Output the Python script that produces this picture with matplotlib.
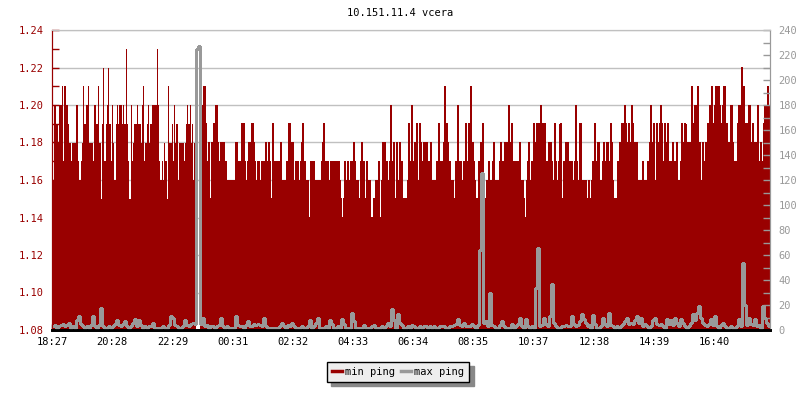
import matplotlib.pyplot as plt
import numpy as np
from matplotlib.lines import Line2D
from matplotlib.ticker import MultipleLocator

RED = "#990000"
GRAY = "#999999"

title = "10.151.11.4 vcera"
time_labels = ["18:27", "20:28", "22:29", "00:31", "02:32", "04:33",
               "06:34", "08:35", "10:37", "12:38", "14:39", "16:40"]
span_min = 1445      # minutes shown on the x axis
tick_step = 121.18   # minutes between time labels

# min ping, one string per 4 hour block
# digit d -> 1.14 + d/100, 'x' -> 1.125, '.' -> no data
min_ping_blocks = [
    "6265" "5466" "7376" "6543" "4446" "63" "2347" "5667" "4443" "6557" "4158"
    "3568" "536" "4256" "5665" "6595" "3163" "4556" "55467" "3456" "4566"
    "6696" "3232" "431" "744",
    "5364" "5244" "44345" "65645" "242" ".5." "2467" "52341" "43546" "42344"
    "43322" "20222" "44233" "5353" "23434" "5431" "2312" "3134" "3143" "1531"
    "3332" "412" "123" "354",
    "24123" "32134" "5312" "2x033" "31221" "21345" "13322" "3133" "23232"
    "1013" "21323" "2343" "2211" "3433" "1322" "2001" "1212" "3024" "24332"
    "3632" "4142" "0413" "1111" "253",
    "63342" "5254" "32444" "31341" "2023" "35231" "4745" "43212" "1136" "3231"
    "2353" "25474" "3211" "1343" "5211" "23121" "34222" "13432" "42446" "4532"
    "3332" "4222" "102" "342",
    "135345" "3565" "35532" "42432" "5321" "3501" "33443" "3332" "36312" "5212"
    "22121" "1235" "3344" "2234" "3343" "3542" "1013" "3453" "5654" "5436"
    "5444" "2212" "3122" "234",
    "63452" "54356" "53544" "5233" "42324" "2235" "4454" "44447" "5656" "7442"
    "4234" "4565" "7556" "76765" "4675" "54346" "4332" "356" "68675" "5566"
    "44543" "4633" "4356" "6476",
]

# max ping (right axis), same 4 hour blocks
max_ping_blocks = [
    [3, 4, 2, 3, 4, 5, 3, 4, 6, 2, 3, 2, 8, 11, 5, 3, 2, 3, 2, 4,
     11, 3, 2, 4, 18, 3, 2, 2, 3, 2, 3, 5, 8, 4, 3, 5, 7, 3, 2, 3,
     6, 9, 3, 8, 4, 2, 3, 2, 3, 3, 6, 2, 2, 2, 2, 3, 2, 2, 4, 11],
    [10, 4, 3, 2, 2, 3, 8, 4, 3, 5, 6, 5, 225, 227, 5, 10, 3, 4, 2, 3,
     3, 2, 3, 4, 10, 3, 2, 3, 2, 2, 2, 2, 11, 4, 3, 3, 2, 4, 7, 3,
     3, 5, 4, 5, 4, 3, 10, 3, 2, 2, 2, 2, 2, 2, 3, 6, 3, 2, 4, 3],
    [6, 3, 2, 2, 2, 3, 2, 2, 3, 8, 2, 3, 6, 10, 2, 2, 2, 3, 2, 8,
     5, 2, 2, 3, 2, 9, 5, 2, 2, 2, 14, 7, 2, 2, 2, 2, 4, 2, 2, 2,
     3, 4, 2, 2, 2, 3, 2, 3, 6, 3, 17, 8, 2, 13, 6, 4, 2, 2, 3, 2],
    [4, 3, 2, 2, 3, 2, 3, 3, 2, 3, 2, 3, 2, 2, 3, 3, 3, 2, 2, 3,
     3, 4, 5, 9, 4, 3, 6, 3, 3, 3, 5, 3, 2, 4, 64, 126, 6, 7, 3, 30,
     4, 3, 2, 2, 4, 7, 3, 2, 2, 2, 5, 2, 3, 5, 10, 3, 2, 9, 3, 2],
    [3, 2, 34, 66, 3, 4, 10, 5, 3, 11, 37, 6, 3, 2, 2, 3, 3, 4, 3, 3,
     11, 5, 3, 4, 7, 13, 9, 6, 3, 4, 2, 12, 5, 2, 2, 3, 10, 5, 3, 14,
     4, 3, 2, 3, 2, 3, 5, 7, 10, 5, 6, 5, 8, 11, 6, 10, 3, 5, 3, 2],
    [3, 8, 10, 5, 4, 5, 3, 2, 9, 5, 8, 4, 10, 6, 3, 9, 6, 3, 2, 3,
     6, 13, 8, 14, 19, 10, 6, 4, 3, 5, 9, 4, 11, 3, 2, 4, 6, 3, 2, 2,
     3, 2, 2, 3, 9, 3, 54, 20, 4, 10, 5, 4, 9, 3, 4, 2, 19, 10, 6, 3],
]


def decode(s):
    out = []
    for c in s:
        if c == ".":
            out.append(np.nan)
        elif c == "x":
            out.append(1.125)
        else:
            out.append(1.14 + int(c) / 100)
    return out


def block_x(blocks):
    w = span_min / len(blocks)
    xs = [np.linspace(i * w, (i + 1) * w, len(b), endpoint=False)
          for i, b in enumerate(blocks)]
    return np.concatenate(xs)


min_y = np.concatenate([decode(b) for b in min_ping_blocks])
min_x = block_x(min_ping_blocks)
max_y = np.concatenate([np.array(b, dtype=float) for b in max_ping_blocks])
max_x = block_x(max_ping_blocks)
# close the last step at the right edge
min_x = np.append(min_x, span_min)
min_y = np.append(min_y, min_y[-1])
max_x = np.append(max_x, span_min)
max_y = np.append(max_y, max_y[-1])

plt.rcParams["font.family"] = "DejaVu Sans Mono"
plt.rcParams["font.size"] = 7.5

fig = plt.figure(figsize=(8, 4), dpi=100, facecolor="white")
ax = fig.add_axes([52 / 800, 70 / 400, 718 / 800, 300 / 400])
ax2 = ax.twinx()

ax.fill_between(min_x, 1.08, min_y, step="post", color=RED, linewidth=0,
                antialiased=False, zorder=2)
ax2.step(max_x, max_y, where="post", color=GRAY, linewidth=0.75,
         antialiased=False)

ax.set_xlim(0, span_min)
ax.set_ylim(1.08, 1.24)
ax2.set_ylim(0, 240)

ax.set_xticks(np.arange(len(time_labels)) * tick_step)
ax.set_xticklabels(time_labels)
ax.yaxis.set_major_locator(MultipleLocator(0.02))
ax.yaxis.set_minor_locator(MultipleLocator(0.01))
ax.yaxis.set_major_formatter(plt.FuncFormatter(lambda v, p: f"{v:.2f}"))
ax2.yaxis.set_major_locator(MultipleLocator(20))
ax2.yaxis.set_minor_locator(MultipleLocator(10))

ax.grid(axis="y", which="major", color="#c0c0c0", linewidth=1, zorder=0)
ax.set_axisbelow(True)

ax.tick_params(axis="y", which="both", direction="in", colors=RED,
               length=5, width=1, pad=6)
ax.tick_params(axis="x", direction="in", colors="black", length=4,
               width=1, pad=5)
ax2.tick_params(axis="y", which="both", direction="in", colors=GRAY,
                length=5, width=1, pad=6)

for a in (ax, ax2):
    a.spines["left"].set_color(RED)
    a.spines["right"].set_color(GRAY)
    a.spines["top"].set_color("#c0c0c0")
    a.spines["bottom"].set_color("black")
    a.spines["bottom"].set_linewidth(2)

fig.text(0.5, 1 - 13 / 400, title, ha="center", va="center", fontsize=7.5)

handles = [Line2D([], [], color=RED, linewidth=2.5),
           Line2D([], [], color=GRAY, linewidth=2.5)]
fig.legend(handles, ["min ping", "max ping"], loc="center",
           bbox_to_anchor=(398 / 800, 1 - 372 / 400), ncol=2,
           fancybox=False, edgecolor="black", facecolor="#eeeeee",
           framealpha=1, handlelength=1.0, handletextpad=0.3,
           columnspacing=0.5, borderpad=0.5,
           shadow={"ox": 3, "oy": -3, "color": "#888888", "alpha": 1})

fig.savefig("out.png", dpi=100)
